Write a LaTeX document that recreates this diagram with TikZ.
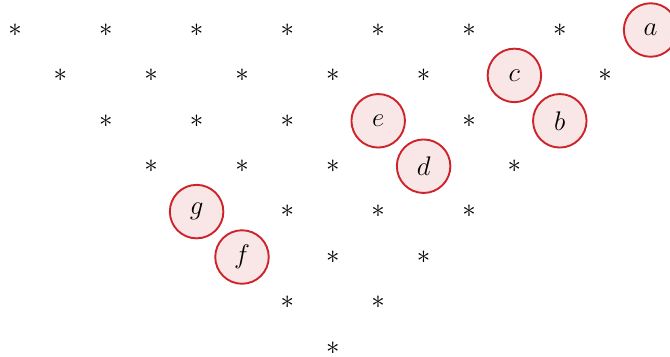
\documentclass[tikz,border=0pt]{standalone}
\usepackage{fix-cm}
\definecolor{ringred}{RGB}{205,35,42}
\definecolor{ringfill}{RGB}{249,231,231}
\begin{document}
\begin{tikzpicture}[x=1bp,y=-1bp,
  star/.style={inner sep=0pt,font=\fontsize{27}{30}\selectfont},
  ring/.style={circle,draw=ringred,fill=ringfill,line width=1.9bp,minimum size=53.5bp,inner sep=0pt,font=\fontsize{27}{30}\selectfont}]
\useasboundingbox (0,0) rectangle (670,356);
\foreach \r/\k in {0/0,0/2,0/4,0/6,0/8,0/10,0/12,
                   1/1,1/3,1/5,1/7,1/9,1/13,
                   2/2,2/4,2/6,2/10,
                   3/3,3/5,3/7,3/11,
                   4/6,4/8,4/10,
                   5/7,5/9,
                   6/6,6/8,
                   7/7}{
  \node[star] (s-\r-\k) at (15+45.4*\k,30+45.4*\r) {$\ast$};
}
\node[ring] (a) at (15+45.4*14,30) {$a$};
\node[ring] (c) at (15+45.4*11,30+45.4*1) {$c$};
\node[ring] (b) at (15+45.4*12,30+45.4*2) {$b$};
\node[ring] (e) at (15+45.4*8,30+45.4*2) {$e$};
\node[ring] (d) at (15+45.4*9,30+45.4*3) {$d$};
\node[ring] (g) at (15+45.4*4,30+45.4*4) {$g$};
\node[ring] (f) at (15+45.4*5,30+45.4*5) {$f$};
\end{tikzpicture}
\end{document}
